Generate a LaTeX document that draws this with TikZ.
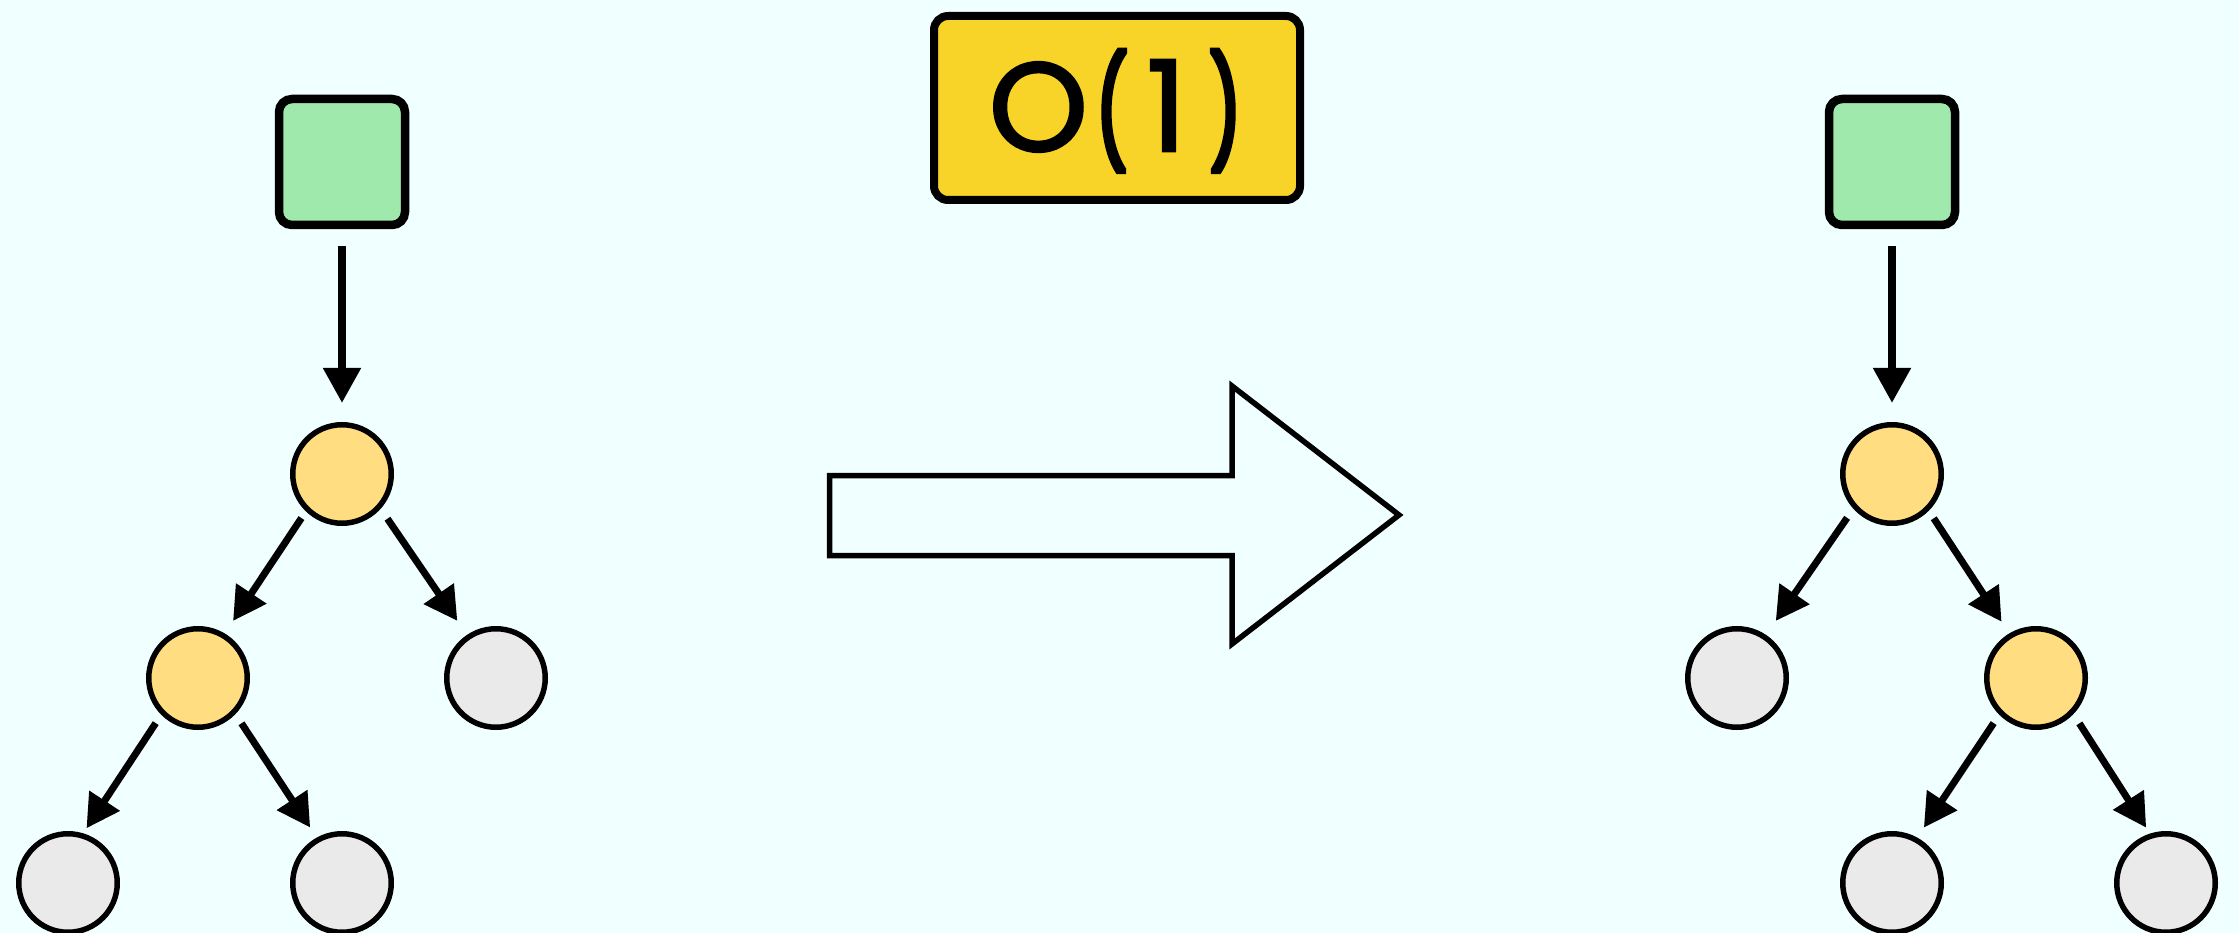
\documentclass[tikz,border=0pt]{standalone}
\usepackage{fontspec}
\newfontfamily\badgefont{Poppins}[FakeBold=2]
\newfontfamily\badgeparen{Poppins}[FakeBold=6]
\usetikzlibrary{arrows.meta}
\definecolor{bg}{RGB}{240,255,255}
\definecolor{leaf}{RGB}{234,234,234}
\definecolor{hot}{RGB}{255,221,128}
\definecolor{src}{RGB}{160,233,172}
\definecolor{badge}{RGB}{247,212,39}
% narrow, slightly shortened parentheses for the badge
\newcommand{\parglyph}[1]{\scalebox{0.55}[0.85]{\badgeparen #1}}
\begin{document}
\begin{tikzpicture}[x=1pt,y=-1pt,
  srcbox/.style={draw, line width=8.5pt, fill=src, rounded corners=13pt,
    minimum size=126pt, inner sep=0pt},
  hotnode/.style={circle, draw, line width=5.5pt, fill=hot, minimum size=98.5pt, inner sep=0pt},
  leafnode/.style={circle, draw, line width=5.5pt, fill=leaf, minimum size=98.5pt, inner sep=0pt},
  downarr/.style={line width=8pt, -{Triangle[length=35pt,width=36pt]}},
  edgearr/.style={line width=7pt, -{Triangle[length=33pt,width=35pt]}},
]
% canvas
\fill[bg] (0,0) rectangle (2239,933);
\useasboundingbox (0,0) rectangle (2239,933);

% cost badge
\node[draw, line width=8pt, fill=badge, rounded corners=14pt,
  minimum width=366pt, minimum height=184pt, inner sep=0pt,
  text height=100pt, text depth=14pt,
  font=\badgefont\fontsize{126}{126}\selectfont] (cost) at (1117,108)
  {O\kern8pt\parglyph{(}\kern19pt1\kern23pt\parglyph{)}\kern4pt};

% left tree (before)
\node[srcbox]   (srcL)  at (342,162) {};
\node[hotnode]  (rootL) at (342,474) {};
\node[hotnode]  (midL)  at (198,678) {};
\node[leafnode] (sibL)  at (496,678) {};
\node[leafnode] (llL)   at (68,883)  {};
\node[leafnode] (lrL)   at (342,883) {};

\draw[downarr, shorten <=17pt, shorten >=19pt] (srcL.south) -- (rootL.north);
\draw[edgearr, shorten <=8pt,  shorten >=15pt] (rootL.226) -- (midL.59);
\draw[edgearr, shorten <=12pt, shorten >=17pt] (rootL.318) -- (sibL.124);
\draw[edgearr, shorten <=10pt, shorten >=6pt]  (midL.225)  -- (llL.73);
\draw[edgearr, shorten <=11pt, shorten >=12pt] (midL.316)  -- (lrL.119);

% transition arrow
\draw[line width=5.5pt, fill=bg, miter limit=10]
  (829.5,475.5) -- (1232,475.5) -- (1232,386) -- (1399,515)
  -- (1232,644) -- (1232,555.5) -- (829.5,555.5) -- cycle;

% right tree (after)
\node[srcbox]   (srcR)  at (1892,162) {};
\node[hotnode]  (rootR) at (1892,474) {};
\node[leafnode] (sibR)  at (1737,678) {};
\node[hotnode]  (midR)  at (2036,678) {};
\node[leafnode] (llR)   at (1892,883) {};
\node[leafnode] (lrR)   at (2166,883) {};

\draw[downarr, shorten <=17pt, shorten >=19pt] (srcR.south) -- (rootR.north);
\draw[edgearr, shorten <=11pt, shorten >=17pt] (rootR.222) -- (sibR.56);
\draw[edgearr, shorten <=9pt,  shorten >=14pt] (rootR.315) -- (midR.121);
\draw[edgearr, shorten <=10pt, shorten >=12pt] (midR.225)  -- (llR.61);
\draw[edgearr, shorten <=11pt, shorten >=7pt]  (midR.316)  -- (lrR.108);
\end{tikzpicture}
\end{document}
